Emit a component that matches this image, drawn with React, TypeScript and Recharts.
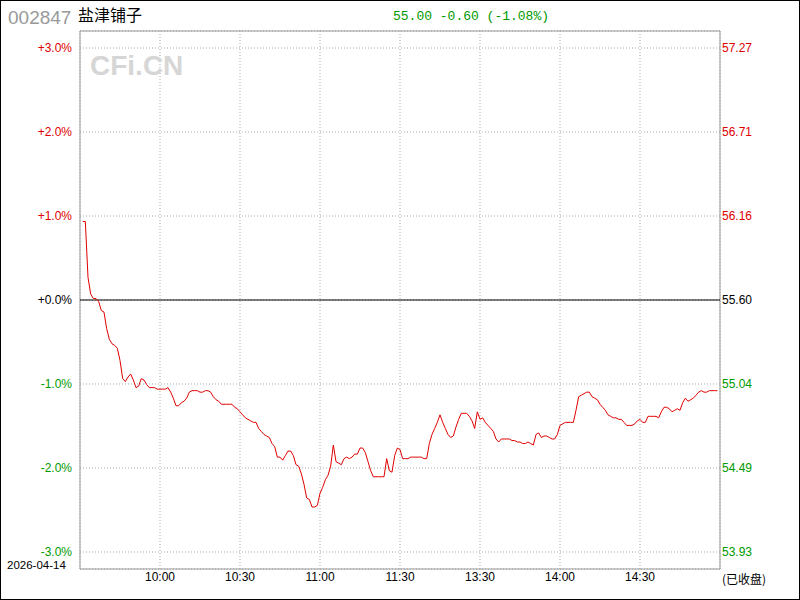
import React from "react";
import {
  LineChart,
  Line,
  XAxis,
  YAxis,
  CartesianGrid,
  ReferenceLine,
  ReferenceArea,
} from "recharts";

// 002847 盐津铺子 intraday, 2026-04-14
const PREV_CLOSE = 55.6;
const LAST_PRICE = 55.0;
const TIME_TICKS = [30, 60, 90, 120, 150, 180, 210];
const TIME_LABELS = ["10:00", "10:30", "11:00", "11:30", "13:30", "14:00", "14:30"];
const PCT_LEVELS = [3, 2, 1, 0, -1, -2, -3];

// price per minute, starting 09:31 (index 0 => minute 1)
const prices = [
  56.12, 56.12, 55.75, 55.64, 55.61, 55.61, 55.59, 55.53, 55.52, 55.41,
  55.34, 55.31, 55.3, 55.28, 55.2, 55.08, 55.06, 55.09, 55.11, 55.07,
  55.02, 55.03, 55.08, 55.07, 55.04, 55.02, 55.02, 55.02, 55.01, 55.01,
  55.01, 55.01, 55.02, 54.99, 54.95, 54.9, 54.9, 54.92, 54.93, 54.95,
  54.99, 55.0, 55.0, 55.0, 54.99, 54.99, 55.0, 55.0, 54.99, 54.96,
  54.94, 54.93, 54.91, 54.91, 54.91, 54.91, 54.91, 54.89, 54.88, 54.86,
  54.84, 54.82, 54.81, 54.8, 54.79, 54.79, 54.75, 54.73, 54.71, 54.7,
  54.69, 54.65, 54.63, 54.56, 54.56, 54.54, 54.57, 54.6, 54.6, 54.57,
  54.51, 54.5, 54.45, 54.38, 54.29, 54.28, 54.23, 54.23, 54.24, 54.32,
  54.36, 54.41, 54.44, 54.5, 54.64, 54.53, 54.52, 54.51, 54.55, 54.56,
  54.55, 54.56, 54.58, 54.58, 54.62, 54.62, 54.59, 54.53, 54.47, 54.43,
  54.43, 54.43, 54.43, 54.43, 54.55, 54.47, 54.46, 54.57, 54.62, 54.61,
  54.55, 54.55, 54.55, 54.56, 54.56, 54.56, 54.56, 54.56, 54.55, 54.55,
  54.65, 54.71, 54.75, 54.79, 54.84, 54.79, 54.75, 54.71, 54.69, 54.7,
  54.76, 54.81, 54.85, 54.85, 54.85, 54.83, 54.8, 54.75, 54.86, 54.81,
  54.82, 54.79, 54.77, 54.75, 54.73, 54.68, 54.66, 54.68, 54.68, 54.68,
  54.68, 54.67, 54.67, 54.66, 54.66, 54.65, 54.65, 54.66, 54.65, 54.64,
  54.71, 54.72, 54.69, 54.7, 54.7, 54.69, 54.68, 54.68, 54.71, 54.77,
  54.78, 54.79, 54.79, 54.79, 54.79, 54.87, 54.96, 54.97, 54.98, 54.99,
  54.99, 54.96, 54.95, 54.94, 54.91, 54.89, 54.87, 54.84, 54.83, 54.82,
  54.82, 54.81, 54.81, 54.79, 54.77, 54.77, 54.77, 54.78, 54.8, 54.81,
  54.79, 54.79, 54.83, 54.83, 54.83, 54.83, 54.82, 54.86, 54.89, 54.89,
  54.88, 54.86, 54.87, 54.88, 54.87, 54.92, 54.95, 54.93, 54.94, 54.95,
  54.97, 54.99, 55.0, 54.99, 54.99, 55.0, 55.0, 55.0, 55.0,
];

const RED = "#e00000";
const GREEN = "#009a00";
const FONT = "'Liberation Sans', Arial, sans-serif";
const CJK = "'Noto Sans CJK SC', sans-serif";

const data = prices.map((p, i) => ({ m: i + 1, price: p }));
const span = 0.032024;
const yLo = PREV_CLOSE * (1 - span);
const yHi = PREV_CLOSE * (1 + span);
const priceTicks = PCT_LEVELS.map((p) => PREV_CLOSE * (1 + p / 100));

const colorFor = (v: number) =>
  Math.abs(v - PREV_CLOSE) < 0.001 ? "#000" : v > PREV_CLOSE ? RED : GREEN;

const LeftTick = (props: any) => {
  const { x, y, payload } = props;
  const pct = (payload.value / PREV_CLOSE - 1) * 100;
  const label = (pct < -0.001 ? "-" : "+") + Math.abs(pct).toFixed(1) + "%";
  return (
    <text x={x} y={y} dy={4} textAnchor="end" fontSize={12} fontFamily={FONT} fill={colorFor(payload.value)}>
      {label}
    </text>
  );
};

const RightTick = (props: any) => {
  const { x, y, payload } = props;
  return (
    <text x={x} y={y} dy={4} textAnchor="start" fontSize={12} fontFamily={FONT} fill={colorFor(payload.value)}>
      {payload.value.toFixed(2)}
    </text>
  );
};

export default function App() {
  const chg = LAST_PRICE - PREV_CLOSE;
  const chgPct = (chg / PREV_CLOSE) * 100;
  const header = `${LAST_PRICE.toFixed(2)} ${chg.toFixed(2)} (${chgPct.toFixed(2)}%)`;

  return (
    <div style={{ position: "absolute", left: 0, top: 0, width: 800, height: 600, background: "#fff" }}>
      <LineChart
        width={800}
        height={600}
        data={data}
        margin={{ top: 31, right: 10, bottom: 6, left: 10 }}
      >
        <CartesianGrid yAxisId="left" stroke="#aaa" strokeDasharray="1 2" />
        <XAxis
          dataKey="m"
          type="number"
          domain={[0, 240]}
          ticks={TIME_TICKS}
          tickFormatter={(v: number) => TIME_LABELS[TIME_TICKS.indexOf(v)]}
          axisLine={false}
          tickLine={false}
          tickSize={0}
          tickMargin={3}
          height={25}
          tick={{ fill: "#000", fontSize: 12, fontFamily: FONT }}
        />
        <YAxis
          yAxisId="left"
          domain={[yLo, yHi]}
          ticks={priceTicks}
          allowDataOverflow
          axisLine={false}
          tickLine={false}
          tickSize={0}
          tickMargin={8}
          width={70}
          tick={<LeftTick />}
        />
        <YAxis
          yAxisId="right"
          orientation="right"
          domain={[yLo, yHi]}
          ticks={priceTicks}
          allowDataOverflow
          axisLine={false}
          tickLine={false}
          tickSize={0}
          tickMargin={2}
          width={70}
          tick={<RightTick />}
        />
        <ReferenceArea
          yAxisId="left"
          x1={0}
          x2={240}
          y1={yLo}
          y2={yHi}
          fill="none"
          stroke="#999"
          strokeWidth={1}
        />
        <ReferenceLine yAxisId="left" y={PREV_CLOSE} stroke="#000" strokeWidth={1} />
        <Line yAxisId="right" dataKey="price" stroke="none" dot={false} isAnimationActive={false} />
        <Line
          yAxisId="left"
          type="linear"
          dataKey="price"
          stroke={RED}
          strokeWidth={1}
          dot={false}
          isAnimationActive={false}
        />
      </LineChart>
      <svg
        width={800}
        height={600}
        style={{ position: "absolute", left: 0, top: 0, pointerEvents: "none" }}
      >
        <text x={90} y={75} fontSize={28} fontWeight="bold" fontFamily={FONT} fill="#d6d6d6">
          CFi.CN
        </text>
        <text x={8} y={24} fontSize={19} fontFamily={FONT} fill="#999">
          002847
        </text>
        <text x={78} y={21} fontSize={16} fontFamily={CJK} fill="#000">
          盐津铺子
        </text>
        <text x={393} y={20} fontSize={13} fontFamily="'Liberation Mono', monospace" fill={GREEN}>
          {header}
        </text>
        <text x={7} y={569} fontSize={11.5} fontFamily={FONT} fill="#000">
          2026-04-14
        </text>
        <text x={722} y={584} fontSize={12} fontFamily={CJK} fill="#000">
          (已收盘)
        </text>
        <rect x={0.5} y={0.5} width={799} height={599} fill="none" stroke="#000" strokeWidth={1} />
      </svg>
    </div>
  );
}
